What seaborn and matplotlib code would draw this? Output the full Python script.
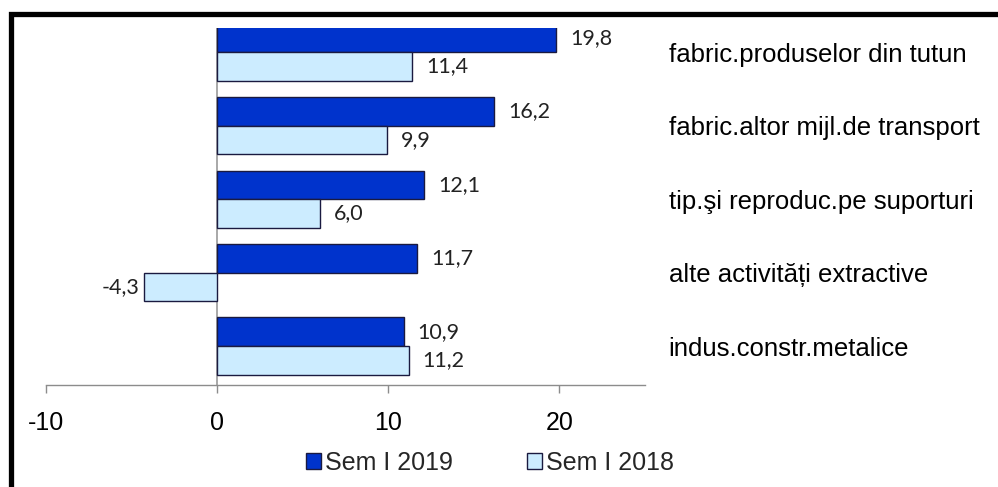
import matplotlib
matplotlib.use("Agg")
import matplotlib.pyplot as plt
import seaborn as sns
import pandas as pd
from matplotlib.patches import Rectangle

categories = ["fabric.produselor din tutun", "fabric.altor mijl.de transport",
              "tip.şi reproduc.pe suporturi", "alte activități extractive",
              "indus.constr.metalice"]
sem2019 = [19.8, 16.2, 12.1, 11.7, 10.9]
sem2018 = [11.4, 9.9, 6.0, -4.3, 11.2]
series = ["Sem I 2019", "Sem I 2018"]
xticks = [-10, 0, 10, 20]

df = pd.DataFrame({
    "cat": categories * 2,
    "val": sem2019 + sem2018,
    "serie": [series[0]] * len(categories) + [series[1]] * len(categories),
})

sns.set_theme(style="white")
plt.rcParams["font.family"] = ["Liberation Sans", "DejaVu Sans"]

W, H = 998, 487
fig = plt.figure(figsize=(W / 100, H / 100), dpi=100)
ax = fig.add_axes([46 / W, (H - 385) / H, (645 - 46) / W, (385 - 28) / H])

sns.barplot(data=df, y="cat", x="val", hue="serie", hue_order=series,
            order=categories, orient="h", width=0.78, saturation=1,
            palette=["#0033CC", "#CCECFF"], edgecolor="#1a1a40",
            linewidth=1.0, ax=ax, legend=True)

ax.set_xlim(-10, 25)
ax.set_ylim(4.53, -0.33)
ax.set_xticks(xticks)
ax.set_xticklabels([str(t) for t in xticks])
ax.set_xlabel("")
ax.set_ylabel("")

for s in ["top", "right", "left"]:
    ax.spines[s].set_visible(False)
ax.spines["bottom"].set_color("#8c8c8c")
ax.spines["bottom"].set_linewidth(1.0)
ax.axvline(0, color="#9a9a9a", lw=1.2, zorder=0.5)

ax.tick_params(axis="x", direction="out", length=6, width=1, color="#8c8c8c",
               pad=13, labelsize=18, labelcolor="#000000", bottom=True)
ax.yaxis.tick_right()
ax.tick_params(axis="y", length=0, pad=17, labelsize=18.5, labelcolor="#000000")

for cont in ax.containers:
    vals = list(cont.datavalues)
    labels = [f"{v:.1f}".replace(".", ",") for v in vals]
    anns = ax.bar_label(cont, labels=labels, padding=10, fontsize=15.5,
                        color="#222222", family=["Lato", "DejaVu Sans"])
    for ann, v in zip(anns, vals):
        if v < 0:
            ann.xyann = (-3, 0)

handles, labs = ax.get_legend_handles_labels()
if ax.get_legend() is not None:
    ax.get_legend().remove()
fig.legend(handles, labs, loc="center", bbox_to_anchor=(490 / W, 1 - 463 / H),
           ncol=2, frameon=False, fontsize=18, handlelength=0.6,
           handleheight=0.6, handletextpad=0.15, columnspacing=3.0,
           borderpad=0.1)

frame = Rectangle((10.5 / W, -0.2), 1.5, 1.2 - 13.5 / H, transform=fig.transFigure,
                  fill=False, edgecolor="black", linewidth=3.8, clip_on=False)
fig.patches.append(frame)

fig.savefig("out.png", dpi=100)
